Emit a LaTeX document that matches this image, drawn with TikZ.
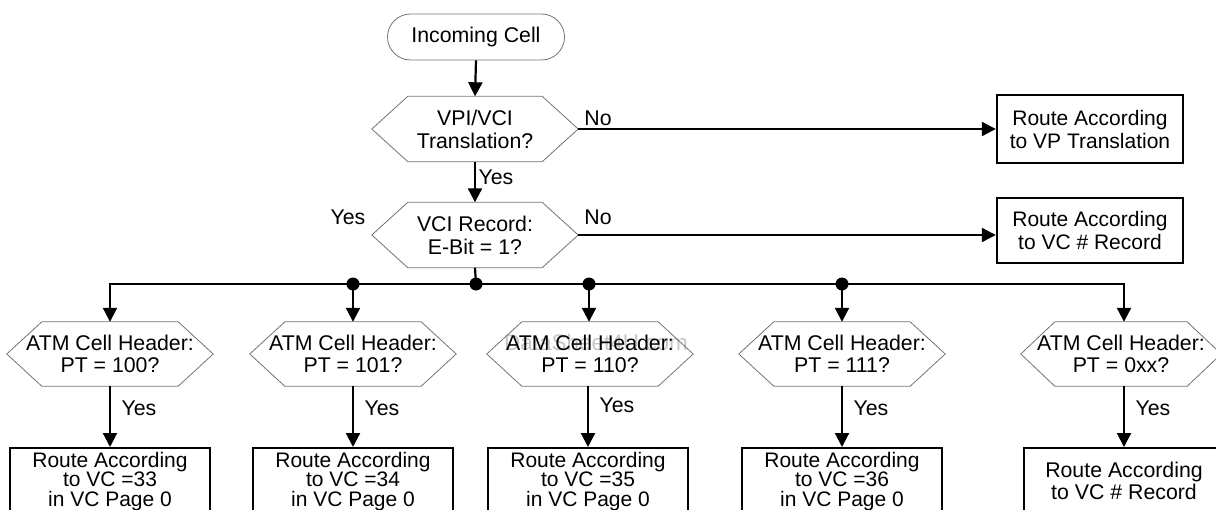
\documentclass[tikz,border=0pt]{standalone}
\usepackage{fontspec}
\setmainfont{Liberation Sans}
\usetikzlibrary{arrows.meta,shapes.misc,calc}
\tikzset{
  hexnode/.style={minimum width=206pt, minimum height=65pt, inner sep=0pt, align=center, font=\fontsize{21.3}{21.5}\selectfont},
  hexline/.style={draw=black!55, line width=0.8pt},
  boxnode/.style={draw, line width=2.4pt, minimum width=200pt, minimum height=66pt, inner sep=0pt, align=center, font=\fontsize{21}{19.6}\selectfont, anchor=north},
  sidebox/.style={draw, line width=2.4pt, minimum width=186pt, minimum height=66pt, inner sep=0pt, align=center, font=\fontsize{21}{23}\selectfont},
  conn/.style={line width=2.2pt, -{Triangle[length=14pt,width=14pt]}},
  plainline/.style={line width=2.2pt},
  lbl/.style={font=\fontsize{21.3}{21}\selectfont, inner sep=0pt},
  dotn/.style={circle, fill, inner sep=0pt, minimum size=13pt}
}
\newcommand\hexo[2]{\draw[hexline] (#1.west) -- ([xshift=#2]#1.north west) -- ([xshift=-#2]#1.north east) -- (#1.east) -- ([xshift=-#2]#1.south east) -- ([xshift=#2]#1.south west) -- cycle;}
\begin{document}
\begin{tikzpicture}[x=1pt,y=-1pt]
\useasboundingbox (0,0) rectangle (1216,509);
% watermark
\node[text=black!22, font=\fontsize{22.5}{22}\selectfont, inner sep=0pt] (wm) at (596,342) {DataSheet4U.com};
% top
\node[rounded rectangle, draw=black!55, line width=0.8pt, minimum width=177pt, minimum height=46pt, inner sep=0pt, font=\fontsize{21.3}{21}\selectfont] (start) at (476,37) {Incoming Cell};
\node[hexnode, font=\fontsize{21.3}{23}\selectfont] (q1) at (475,129) {VPI/VCI\\Translation?};
\hexo{q1}{36pt}
\node[sidebox, minimum height=68pt] (r1) at (1090,129) {Route According\\to VP Translation};
\node[hexnode, font=\fontsize{21.3}{23}\selectfont] (q2) at (475,235) {VCI Record:\\E-Bit = 1?};
\hexo{q2}{36pt}
\node[sidebox, minimum height=65pt] (r2) at (1090,230.5) {Route According\\to VC \# Record};
% bottom hexes
\node[hexnode, minimum height=64pt] (h1) at (110,354) {ATM Cell Header:\\PT = 100?};
\node[hexnode, minimum height=64pt] (h2) at (353,354) {ATM Cell Header:\\PT = 101?};
\node[hexnode, minimum height=64pt] (h3) at (590,354) {ATM Cell Header:\\PT = 110?};
\node[hexnode, minimum height=64pt] (h4) at (842,354) {ATM Cell Header:\\PT = 111?};
\node[hexnode, minimum height=64pt, minimum width=200pt] (h5) at (1121,354) {ATM Cell Header:\\PT = 0xx?};
\hexo{h1}{35pt}\hexo{h2}{35pt}\hexo{h3}{35pt}\hexo{h4}{35pt}\hexo{h5}{34pt}
% bottom boxes
\node[boxnode] (b1) at (110,447) {Route According\\to VC =33\\in VC Page 0};
\node[boxnode] (b2) at (353,447) {Route According\\to VC =34\\in VC Page 0};
\node[boxnode] (b3) at (588,447) {Route According\\to VC =35\\in VC Page 0};
\node[boxnode] (b4) at (842,447) {Route According\\to VC =36\\in VC Page 0};
\node[boxnode, font=\fontsize{21.3}{22}\selectfont] (b5) at (1124,447) {Route According\\to VC \# Record};
% junction dots
\node[dotn] (d2) at (353,284) {};
\node[dotn] (dj) at (476,284) {};
\node[dotn] (d3) at (589,284) {};
\node[dotn] (d4) at (842,284) {};
% connectors
\draw[conn] (start.south) -- (q1.north);
\draw[conn] (q1.east) -- (q1.east -| r1.west);
\draw[conn] (q1.south) -- (q2.north);
\draw[conn] (q2.east) -- (q2.east -| r2.west);
\draw[plainline] (q2.south) -- (dj.center);
\draw[conn] (dj.center) -| (h1.north);
\draw[conn] (dj.center) -| (b5.north |- h5.north);
\draw[conn] (d2.center) -- (d2.center |- h2.north);
\draw[conn] (d3.center) -- (d3.center |- h3.north);
\draw[conn] (d4.center) -- (d4.center |- h4.north);
\draw[conn] (h1.south) -- (b1.north);
\draw[conn] (h2.south) -- (b2.north);
\draw[conn] (h3.south -| b3.north) -- (b3.north);
\draw[conn] (h4.south) -- (b4.north);
\draw[conn] (h5.south -| b5.north) -- (b5.north);
% labels
\node[lbl] (l1) at (598,118) {No};
\node[lbl] (l2) at (496,177) {Yes};
\node[lbl] (l3) at (348,217) {Yes};
\node[lbl] (l4) at (598,217) {No};
\node[lbl] (y1) at (139,408) {Yes};
\node[lbl] (y2) at (382,408) {Yes};
\node[lbl] (y3) at (617,405) {Yes};
\node[lbl] (y4) at (871,408) {Yes};
\node[lbl] (y5) at (1153,408) {Yes};
\end{tikzpicture}
\end{document}
